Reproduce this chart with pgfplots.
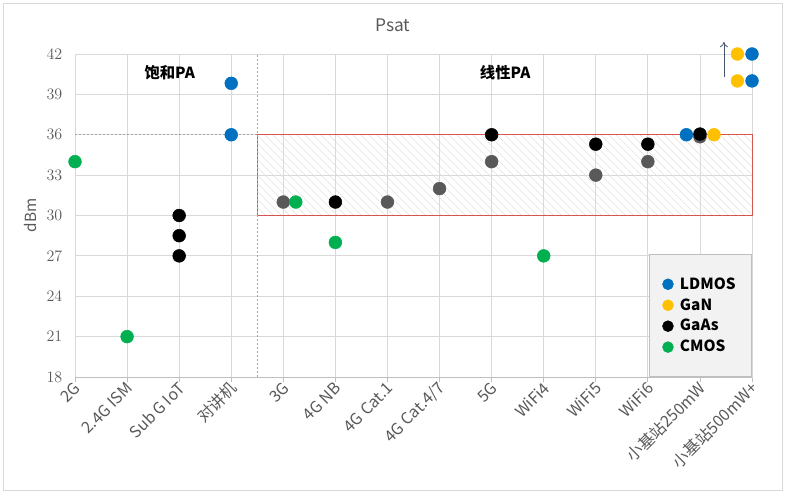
\documentclass[border=0pt]{standalone}
\usepackage{fontspec}
\setmainfont{Noto Sans CJK SC}
\usepackage{pgfplots}
\pgfplotsset{compat=1.18}
\usetikzlibrary{patterns.meta, arrows.meta}
\definecolor{cblue}{HTML}{0070C0}
\definecolor{cgold}{HTML}{FFC000}
\definecolor{cgreen}{HTML}{00B050}
\definecolor{cgrey}{HTML}{595959}
\definecolor{txtc}{HTML}{595959}
\definecolor{gridc}{HTML}{D9D9D9}
\definecolor{axc}{HTML}{BFBFBF}
\definecolor{legfill}{HTML}{F2F2F2}
\definecolor{redc}{HTML}{D9534F}
\definecolor{hatchc}{HTML}{E3E3E3}
\definecolor{dashc}{HTML}{A6A6A6}
\definecolor{arrowc}{HTML}{44546A}
\definecolor{framec}{HTML}{D9D9D9}
\begin{document}
\begin{tikzpicture}
\begin{axis}[
  scale only axis, width=507.75pt, height=242.25pt,
  xmin=0, xmax=13, ymin=18, ymax=42,
  clip=false,
  xtick={0,...,13},
  xticklabels={2G,2.4G ISM,Sub G IoT,对讲机,3G,4G NB,4G Cat.1,4G Cat.4/7,5G,WiFi4,WiFi5,WiFi6,小基站250mW,小基站500mW+},
  ytick={18,21,...,42},
  grid=major, grid style={draw=gridc, line width=0.6pt},
  axis line style={draw=gridc, line width=0.6pt},
  tick align=outside, xtick pos=bottom, ytick pos=left,
  xtick style={draw=axc, line width=0.6pt}, major tick length=4pt,
  ytick style={draw=none},
  ticklabel style={font=\fontsize{12}{14}\selectfont, text=txtc},
  xticklabel style={rotate=45, anchor=east, inner sep=2pt, yshift=-3pt, xshift=2pt},
  yticklabel style={xshift=-2pt},
  ylabel={dBm},
  ylabel style={at={(rel axis cs:-0.066,0.5)}, anchor=center, font=\fontsize{11.5}{13}\selectfont, text=txtc},
  legend style={at={(rel axis cs:1,0)}, anchor=south east, fill=legfill, draw=axc,
    font=\fontsize{11.5}{13}\selectfont, inner xsep=10pt, inner ysep=15pt, row sep=1.5pt,
    line width=0.6pt},
  legend cell align=left,
  legend image code/.code={\draw[mark size=4pt] plot coordinates {(0,0)}; \path[draw=none, fill=none] (-4pt,0) -- (7pt,0);},
  every axis plot/.append style={only marks, mark=*, mark size=4.8pt},
]
% hatched region
\fill[pattern={Lines[angle=-45, distance=4pt, line width=0.5pt]}, pattern color=hatchc]
  (axis cs:3.5,30) rectangle (axis cs:13,36);
\draw[redc, line width=0.7pt] (axis cs:3.5,30) rectangle (axis cs:13,36);
\draw[dashc, line width=0.7pt, dash pattern=on 1.5pt off 1.5pt] (axis cs:3.5,18) -- (axis cs:3.5,42);
\draw[dashc, line width=0.7pt, dash pattern=on 1.5pt off 1.5pt] (axis cs:0,36) -- (axis cs:3.5,36);
\draw[axc, line width=0.6pt] (rel axis cs:0,0) -- (rel axis cs:1,0);

\addplot[forget plot, mark options={draw=cgrey, fill=cgrey}] coordinates {
 (4,31) (6,31) (7,32) (8,34) (10,33) (11,34) (12,35.85)
};
\addplot[mark options={draw=cblue, fill=cblue}] coordinates {
 (3,39.82) (3,36) (11.74,36) (13,42) (13,40)
};
\addlegendentry{\textbf{LDMOS}\hspace{11pt}}
\addplot[mark options={draw=cgold, fill=cgold}] coordinates {
 (12.27,36) (12.72,42) (12.72,40)
};
\addlegendentry{\textbf{GaN}}
\addplot[mark options={draw=black, fill=black}] coordinates {
 (2,30) (2,28.5) (2,27) (5,31) (8,36) (10,35.3) (11,35.3) (12,36.05)
};
\addlegendentry{\textbf{GaAs}}
\addplot[mark options={draw=cgreen, fill=cgreen}] coordinates {
 (0,34) (1,21) (4.24,31) (5,28) (9,27)
};
\addlegendentry{\textbf{CMOS}}

\draw[arrowc, line width=0.6pt, -{To[length=4pt,width=6pt]}] (axis cs:12.46,40.3) -- (axis cs:12.46,42.9);

\node[font=\bfseries\fontsize{11.5}{13}\selectfont] at (axis cs:1.82,40.6) {饱和PA};
\node[font=\bfseries\fontsize{11.5}{13}\selectfont] at (axis cs:8.26,40.6) {线性PA};
\node[font=\fontsize{13}{15}\selectfont, text=txtc] at (rel axis cs:0.4697,1.0898) {Psat};

\draw[framec, line width=0.6pt] (rel axis cs:-0.1064,-0.3498) rectangle (rel axis cs:1.0443,1.1579);
\path (rel axis cs:-0.1108,-0.3591) rectangle (rel axis cs:1.0487,1.1672);
\end{axis}
\end{tikzpicture}
\end{document}
